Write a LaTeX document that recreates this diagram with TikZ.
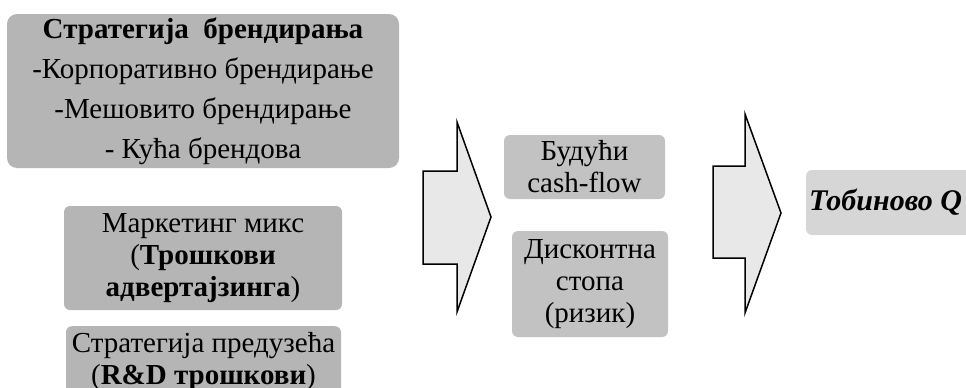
\documentclass[tikz,border=0pt]{standalone}
\usepackage{fontspec}
\setmainfont{Liberation Serif}
\begin{document}
\begin{tikzpicture}[x=1pt,y=-1pt,
  box/.style={rounded corners=6pt,align=center,inner sep=0pt,font=\fontsize{29}{32}\selectfont},
  darkbox/.style={box,fill=boxdark},
  midbox/.style={box,fill=boxmid},
  blockarrow/.style={draw=black,line width=1.5pt,fill=arrowfill,line join=miter}]
\definecolor{boxdark}{HTML}{B5B5B5}
\definecolor{boxmid}{HTML}{C2C2C2}
\definecolor{boxlight}{HTML}{D6D6D6}
\definecolor{arrowfill}{HTML}{E8E8E8}
\useasboundingbox (0,0) rectangle (966,388);
\clip (0,0) rectangle (966,388);
% left boxes
\node[darkbox,rounded corners=10pt,minimum width=392pt,minimum height=154pt,
  font=\fontsize{29}{40}\selectfont] (brand) at (203,91)
  {\textbf{Стратегија\ \ брендирања}\\-Корпоративно брендирање\\-Мешовито брендирање\\- Кућа брендова};
\node[darkbox,minimum width=278pt,minimum height=104pt] (mix) at (203,258)
  {Маркетинг микс\\(\textbf{Трошкови}\\\textbf{адвертајзинга})};
\node[darkbox,minimum width=275pt,minimum height=70pt,anchor=north] (firm) at (203.5,326)
  {Стратегија предузећа\\(\textbf{R\&D трошкови})};
% first block arrow
\draw[blockarrow] (423,171) -- (457,171) -- (457,122) -- (491,217) -- (457,312) -- (457,264) -- (423,264) -- cycle;
% middle boxes
\node[midbox,minimum width=161pt,minimum height=64pt] (cash) at (584.5,167)
  {Будући\\cash-flow};
\node[midbox,minimum width=156pt,minimum height=106pt] (disc) at (590,284)
  {Дисконтна\\стопа\\(ризик)};
% second block arrow
\draw[blockarrow] (713,166) -- (745,166) -- (745,114) -- (781,213) -- (745,313) -- (745,258) -- (713,258) -- cycle;
% right box
\fill[boxlight,rounded corners=6pt] (806,170) rectangle (1000,235);
\node[anchor=west,inner sep=0pt,font=\fontsize{30}{32}\selectfont\bfseries\itshape] (tobin) at (809,202.5) {Тобиново Q};
\end{tikzpicture}
\end{document}
